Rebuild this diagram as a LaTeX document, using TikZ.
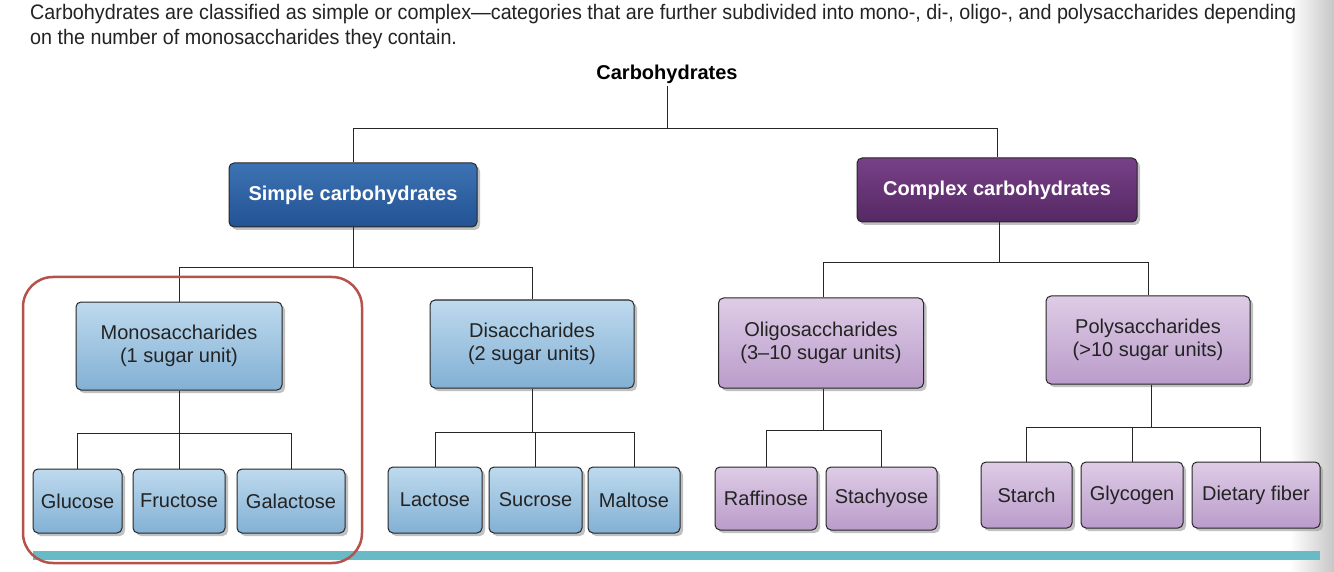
\documentclass[tikz,border=0pt]{standalone}
\usepackage{fontspec}
\setmainfont{Liberation Sans}
\newfontfamily\capfont[FakeStretch=0.94]{Liberation Sans}
\usetikzlibrary{shadows}
\definecolor{lbtop}{RGB}{190,218,238}
\definecolor{lbbot}{RGB}{130,176,212}
\definecolor{dbtop}{RGB}{60,115,180}
\definecolor{dbbot}{RGB}{35,82,148}
\definecolor{dptop}{RGB}{120,65,135}
\definecolor{dpbot}{RGB}{85,40,100}
\definecolor{lptop}{RGB}{222,204,230}
\definecolor{lpbot}{RGB}{186,156,202}
\definecolor{redline}{RGB}{182,82,76}
\definecolor{teal}{RGB}{104,186,198}
\definecolor{txt}{RGB}{35,35,35}
\tikzset{
  box/.style={draw=black!85, line width=1pt, rounded corners=5pt, align=center,
    inner sep=2pt, font=\fontsize{20}{23}\selectfont, text=txt,
    drop shadow={shadow xshift=3pt, shadow yshift=-3pt, fill=black!40, opacity=0.6}},
  lblue/.style={box, top color=lbtop, bottom color=lbbot},
  lpurp/.style={box, top color=lptop, bottom color=lpbot},
  dblue/.style={box, top color=dbtop, bottom color=dbbot, text=white, font=\fontsize{20}{23}\selectfont\bfseries},
  dpurp/.style={box, top color=dptop, bottom color=dpbot, text=white, font=\fontsize{20}{23}\selectfont\bfseries},
  conn/.style={draw=black!85, line width=0.9pt},
  captext/.style={anchor=base west, inner sep=0pt, text=txt, font=\capfont\fontsize{21}{24}\selectfont}
}
\begin{document}
\begin{tikzpicture}[x=1pt,y=-1pt]
\useasboundingbox (0,0) rectangle (1334,572);
\fill[white] (0,0) rectangle (1334,572);
\shade[left color=white, right color=black!22] (1290,0) rectangle (1334,572);

% caption
\node[captext] (cap1) at (30,20) {Carbohydrates are classified as simple or complex—categories that are further subdivided into mono-, di-, oligo-, and polysaccharides depending};
\node[captext] (cap2) at (30,45) {on the number of monosaccharides they contain.};

% title
\node[anchor=base, inner sep=2pt, font=\fontsize{20}{23}\selectfont\bfseries, text=black] (title) at (667,80) {Carbohydrates};

% level 1
\node[dblue, minimum width=248pt, minimum height=64pt] (simple) at (353,195) {Simple carbohydrates};
\node[dpurp, minimum width=280pt, minimum height=64pt] (complex) at (997,190) {Complex carbohydrates};

% level 2
\node[lblue, minimum width=206pt, minimum height=88pt] (mono) at (179,346) {Monosaccharides\\(1 sugar unit)};
\node[lblue, minimum width=204pt, minimum height=88pt] (di) at (532,344) {Disaccharides\\(2 sugar units)};
\node[lpurp, minimum width=205pt, minimum height=90pt] (oligo) at (821,343) {Oligosaccharides\\(3--10 sugar units)};
\node[lpurp, minimum width=204pt, minimum height=88pt] (poly) at (1148,340) {Polysaccharides\\(>10 sugar units)};

% level 3
\node[lblue, minimum width=89pt, minimum height=64pt] (glucose) at (77.5,501) {Glucose};
\node[lblue, minimum width=92pt, minimum height=64pt] (fructose) at (179,501) {Fructose};
\node[lblue, minimum width=108pt, minimum height=64pt] (galactose) at (291,501) {Galactose};
\node[lblue, minimum width=94pt, minimum height=66pt] (lactose) at (435,500) {Lactose};
\node[lblue, minimum width=93pt, minimum height=66pt] (sucrose) at (535.5,500) {Sucrose};
\node[lblue, minimum width=92pt, minimum height=66pt] (maltose) at (634,500) {Maltose};
\node[lpurp, minimum width=102pt, minimum height=63pt] (raffinose) at (766,498.5) {Raffinose};
\node[lpurp, minimum width=111pt, minimum height=63pt] (stachyose) at (881.5,498.5) {Stachyose};
\node[lpurp, minimum width=91pt, minimum height=66pt] (starch) at (1026.5,495) {Starch};
\node[lpurp, minimum width=102pt, minimum height=66pt] (glycogen) at (1132,495) {Glycogen};
\node[lpurp, minimum width=128pt, minimum height=66pt] (fiber) at (1256,495) {Dietary fiber};

% junction levels
\coordinate (b0) at (0,128);
\coordinate (b1) at (0,267);
\coordinate (b2) at (0,262);
\coordinate (b3) at (0,433);
\coordinate (b4) at (0,432);
\coordinate (b5) at (0,430);
\coordinate (b6) at (0,427);

% connectors
\draw[conn] (title.south) -- (title.south |- b0);
\draw[conn] (simple.north) |- (complex.north |- b0) -- (complex.north);

\draw[conn] (simple.south) -- (simple.south |- b1);
\draw[conn] (mono.north) |- (di.north |- b1) -- (di.north);

\draw[conn] ([xshift=2pt]complex.south) -- ([xshift=2pt]complex.south |- b2);
\draw[conn] ([xshift=2pt]oligo.north) |- (poly.north |- b2) -- (poly.north);

\draw[conn] (mono.south) -- (fructose.north);
\draw[conn] (glucose.north) |- (galactose.north |- b3) -- (galactose.north);

\draw[conn] (di.south) -- (di.south |- b4);
\draw[conn] (lactose.north) |- (maltose.north |- b4) -- (maltose.north);
\draw[conn] (sucrose.north) -- (sucrose.north |- b4);

\draw[conn] ([xshift=2pt]oligo.south) -- ([xshift=2pt]oligo.south |- b5);
\draw[conn] (raffinose.north) |- (stachyose.north |- b5) -- (stachyose.north);

\draw[conn] ([xshift=3pt]poly.south) -- ([xshift=3pt]poly.south |- b6);
\draw[conn] (starch.north) |- ([xshift=4pt]fiber.north |- b6) -- ([xshift=4pt]fiber.north);
\draw[conn] (glycogen.north) -- (glycogen.north |- b6);

% bottom band and highlight
\fill[teal] (33,551) rectangle (1320,560);
\draw[redline, line width=2.5pt, rounded corners=30pt] (23,277) rectangle (362,563);
\end{tikzpicture}
\end{document}
